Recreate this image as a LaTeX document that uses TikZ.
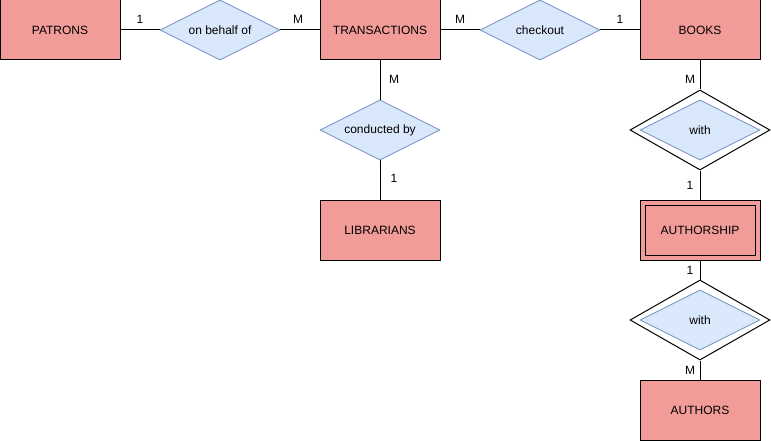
\documentclass[tikz,border=0pt]{standalone}
\usepackage{fontspec}
\setmainfont{Liberation Sans}
\usetikzlibrary{shapes.geometric}
\definecolor{entfill}{HTML}{F19C99}
\definecolor{relfill}{HTML}{DAE8FC}
\definecolor{reldraw}{HTML}{6C8EBF}
\begin{document}
\begin{tikzpicture}[x=1pt,y=-1pt,
  every node/.style={font=\fontsize{12}{14}\selectfont},
  entity/.style={draw=black,fill=entfill,line width=1pt,minimum width=120pt,minimum height=60pt,inner sep=0pt},
  weakinner/.style={draw=black,line width=1pt,minimum width=110pt,minimum height=50pt,inner sep=0pt},
  rel/.style={diamond,aspect=2,draw=reldraw,fill=relfill,line width=0.8pt,minimum width=120pt,minimum height=60pt,inner sep=0pt},
  relouter/.style={diamond,aspect=1.75,draw=black,fill=white,line width=1pt,minimum width=140pt,minimum height=80pt,inner sep=0pt},
  conn/.style={draw=black,line width=1pt},
  card/.style={inner sep=0pt}]
\useasboundingbox (0,0) rectangle (771,441);
% entities
\node[entity] (patrons) at (60,30) {PATRONS};
\node[entity] (trans) at (380,30) {TRANSACTIONS};
\node[entity] (books) at (700,30) {BOOKS};
\node[entity] (libr) at (380,230) {LIBRARIANS};
\node[entity] (authship) at (700,230) {};
\node[weakinner] (authinner) at (700,230) {AUTHORSHIP};
\node[entity] (authors) at (700,410) {AUTHORS};
% relationships
\node[rel] (behalf) at (220,30) {on behalf of};
\node[rel] (checkout) at (540,30) {checkout};
\node[rel] (conducted) at (380,130) {conducted by};
\node[relouter] (with1o) at (700,130) {};
\node[rel] (with1) at (700,130) {with};
\node[relouter] (with2o) at (700,320) {};
\node[rel] (with2) at (700,320) {with};
% connectors
\draw[conn] (patrons.east) -- (behalf.west);
\draw[conn] (behalf.east) -- (trans.west);
\draw[conn] (trans.east) -- (checkout.west);
\draw[conn] (checkout.east) -- (books.west);
\draw[conn] (trans.south) -- (conducted.north);
\draw[conn] (conducted.south) -- (libr.north);
\draw[conn] (books.south) -- (with1o.north);
\draw[conn] (with1o.south) -- (authship.north);
\draw[conn] (authship.south) -- (with2o.north);
\draw[conn] (with2o.south) -- (authors.north);
% cardinalities
\node[card] (c1) at (140,19) {1};
\node[card] (c2) at (298,19) {M};
\node[card] (c3) at (460,19) {M};
\node[card] (c4) at (620,19) {1};
\node[card] (c5) at (394,79) {M};
\node[card] (c6) at (394,178) {1};
\node[card] (c7) at (690,79) {M};
\node[card] (c8) at (690,185) {1};
\node[card] (c9) at (690,270) {1};
\node[card] (c10) at (690,370) {M};
\end{tikzpicture}
\end{document}
